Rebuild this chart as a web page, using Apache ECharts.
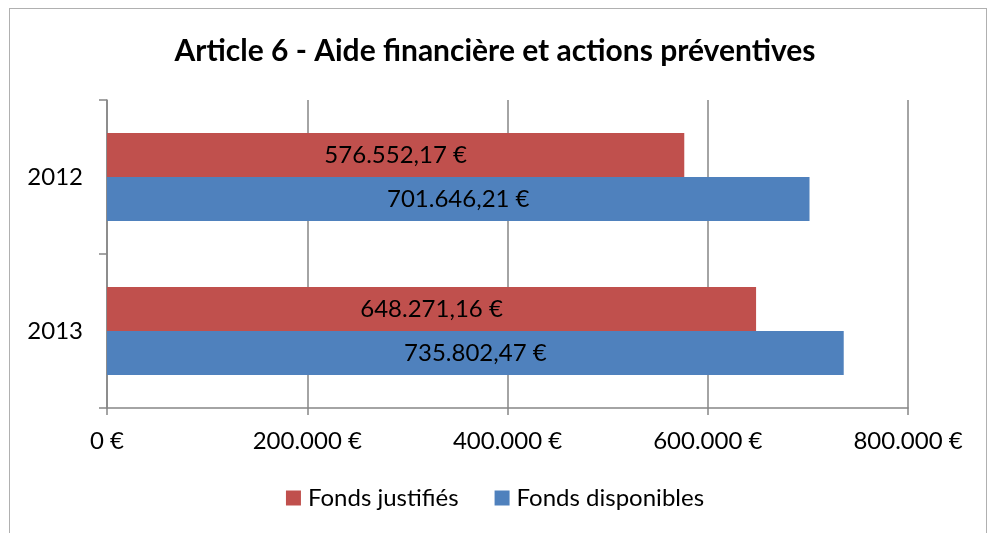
<!DOCTYPE html>
<html>
<head>
<meta charset="utf-8">
<script src="https://cdn.jsdelivr.net/npm/echarts@6/dist/echarts.min.js"></script>
<style>
  html, body { margin: 0; padding: 0; background: #fff; }
  #frame { position: absolute; left: 9px; top: 8px; width: 978px; height: 530px; border: 1px solid #b0b0b0; box-sizing: border-box; }
  #container { width: 990px; height: 533px; }
</style>
</head>
<body>
<div id="frame"></div>
<div id="container"></div>
<script>
let years = ['2012', '2013'];
let justifies = [576552.17, 648271.16];
let disponibles = [701646.21, 735802.47];
let seriesNames = ['Fonds justifiés', 'Fonds disponibles'];

function euro(v, decimals) {
    let parts = v.toFixed(decimals).split('.');
    let whole = parts[0].replace(/\B(?=(\d{3})+(?!\d))/g, '.');
    return whole + (decimals ? ',' + parts[1] : '') + ' €';
}

const myChart = echarts.init(document.getElementById('container'));
const fontFamily = 'Lato, "Open Sans", sans-serif';

const option = {
    animation: false,
    textStyle: { fontFamily: fontFamily },
    title: {
        text: 'Article 6 - Aide financière et actions préventives',
        left: 'center',
        top: 31,
        textStyle: { fontSize: 30, fontWeight: 'bold', color: '#000', fontFamily: fontFamily }
    },
    legend: {
        data: seriesNames,
        top: 481,
        left: 'center',
        itemWidth: 15,
        itemHeight: 15,
        itemGap: 36,
        icon: 'rect',
        textStyle: { fontSize: 24, color: '#000', fontFamily: fontFamily, padding: [0, 0, 0, 2] }
    },
    grid: { left: 107, right: 82, top: 100, bottom: 125, containLabel: false },
    xAxis: {
        type: 'value',
        min: 0,
        max: 800000,
        interval: 200000,
        axisLine: { show: true, lineStyle: { color: '#868686', width: 1.5 } },
        axisTick: { show: true, length: 7, lineStyle: { color: '#868686', width: 1.5 } },
        splitLine: { show: true, lineStyle: { color: '#868686', width: 1.5 } },
        axisLabel: {
            fontSize: 24, color: '#000', margin: 21,
            formatter: function (v) { return euro(v, 0); }
        }
    },
    yAxis: {
        type: 'category',
        data: years,
        inverse: true,
        axisLine: { show: true, lineStyle: { color: '#868686', width: 1.5 } },
        axisTick: { show: true, length: 8, lineStyle: { color: '#868686', width: 1.5 } },
        axisLabel: { fontSize: 24, color: '#000', margin: 24 }
    },
    series: [{
        name: seriesNames[0],
        type: 'bar',
        data: justifies,
        barWidth: 44,
        barGap: '0%',
        itemStyle: { color: '#C0504D' },
        label: {
            show: true, position: 'inside', fontSize: 24, color: '#000',
            formatter: function (p) { return euro(p.value, 2); }
        }
    }, {
        name: seriesNames[1],
        type: 'bar',
        data: disponibles,
        barWidth: 44,
        barGap: '0%',
        itemStyle: { color: '#4F81BD' },
        label: {
            show: true, position: 'inside', fontSize: 24, color: '#000',
            formatter: function (p) { return euro(p.value, 2); }
        }
    }]
};
myChart.setOption(option, true);
</script>
</body>
</html>
